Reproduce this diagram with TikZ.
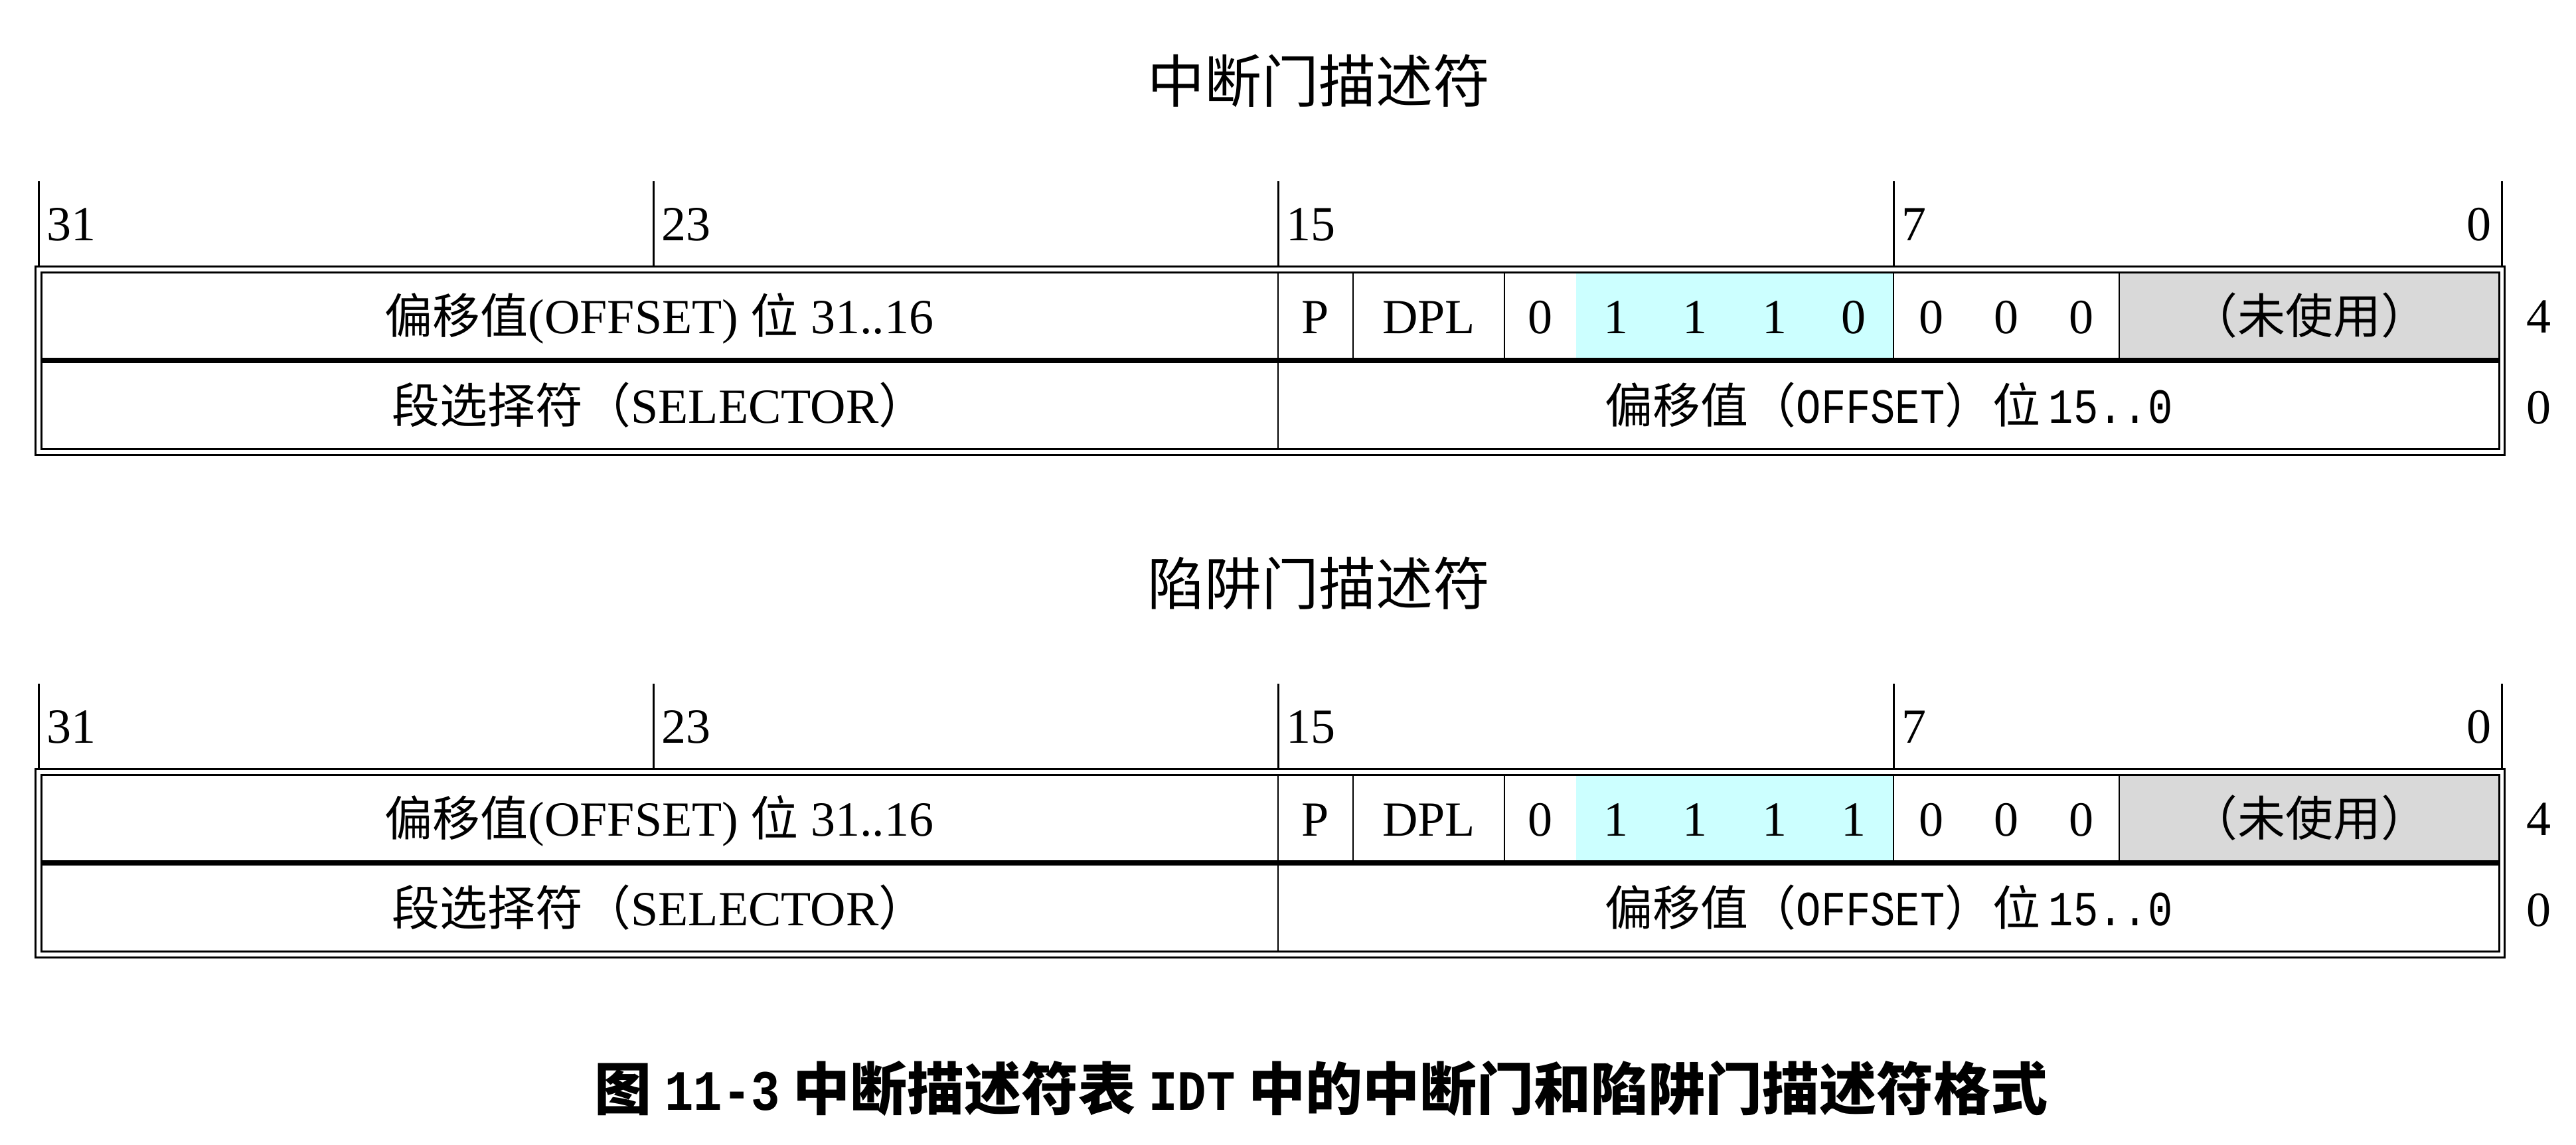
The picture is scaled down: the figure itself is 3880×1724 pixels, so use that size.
\documentclass[tikz,border=0pt]{standalone}
\usepackage{fontspec}
\setmainfont{Liberation Serif}
\newfontfamily\cjk{Noto Sans CJK SC}
\newfontfamily\monof[FakeStretch=0.84]{Liberation Mono}
\definecolor{bitcyan}{HTML}{CCFFFF}
\definecolor{unusedgrey}{HTML}{D9D9D9}
\tikzset{
  lbl/.style={inner sep=0pt, font=\fontsize{37}{44}\selectfont},
  ttl/.style={inner sep=0pt, font=\cjk\fontsize{43}{50}\selectfont},
  tickline/.style={line width=1.5pt},
  border/.style={line width=1.5pt},
  rowsep/.style={line width=4pt},
  cellsep/.style={line width=1.3pt},
}
\newcommand\zh[1]{{\cjk\fontsize{36}{44}\selectfont #1}}
\newcommand\ssm[1]{{\monof\fontsize{37}{44}\selectfont #1}}
\newcommand\gateblock[4]{%
\begin{scope}[shift={(0,#1)}]
  \fill[bitcyan] (2374,410) rectangle (2852,543);
  \fill[unusedgrey] (3192,410) rectangle (3764,543);
  \node[ttl] (#2title) at (1986,122) {#3};
  \draw[tickline] (58,273) -- (58,401);
  \draw[tickline] (984,273) -- (984,401);
  \draw[tickline] (1925,273) -- (1925,401);
  \draw[tickline] (2852,273) -- (2852,401);
  \draw[tickline] (3768,273) -- (3768,401);
  \node[lbl, anchor=base west] (#2t31) at (70,362) {31};
  \node[lbl, anchor=base west] (#2t23) at (996,362) {23};
  \node[lbl, anchor=base west] (#2t15) at (1937,362) {15};
  \node[lbl, anchor=base west] (#2t7) at (2864,362) {7};
  \node[lbl, anchor=base east] (#2t0) at (3753,362) {0};
  \draw[border] (53,401) rectangle (3772,685);
  \draw[border] (62,410) rectangle (3764,676);
  \draw[rowsep] (62,543) -- (3764,543);
  \draw[cellsep] (1925,410) -- (1925,676);
  \draw[cellsep] (2038,410) -- (2038,543);
  \draw[cellsep] (2266,410) -- (2266,543);
  \draw[cellsep] (2852,410) -- (2852,543);
  \draw[cellsep] (3192,410) -- (3192,543);
  \node[lbl, anchor=base] (#2offhi) at (993,502) {\zh{偏移值}(OFFSET) \zh{位} 31..16};
  \node[lbl, anchor=base] (#2p) at (1981,502) {P};
  \node[lbl, anchor=base] (#2dpl) at (2152,502) {DPL};
  \node[lbl, anchor=base] (#2b12) at (2320,502) {0};
  \node[lbl, anchor=base] (#2b11) at (2434,502) {1};
  \node[lbl, anchor=base] (#2b10) at (2553,502) {1};
  \node[lbl, anchor=base] (#2b9) at (2673,502) {1};
  \node[lbl, anchor=base] (#2b8) at (2792,502) {#4};
  \node[lbl, anchor=base] (#2b7) at (2909,502) {0};
  \node[lbl, anchor=base] (#2b6) at (3022,502) {0};
  \node[lbl, anchor=base] (#2b5) at (3135,502) {0};
  \node[lbl, anchor=base] (#2unused) at (3478,502) {\zh{（未使用）}};
  \node[lbl, anchor=base] (#2sel) at (993,637) {\zh{段选择符（}SELECTOR\zh{）}};
  \node[lbl, anchor=base] (#2offlo) at (2845,637) {\zh{偏移值（}\ssm{OFFSET}\zh{）位}\,\ssm{15..0}};
  \node[lbl, anchor=base] (#2r4) at (3824,501) {4};
  \node[lbl, anchor=base] (#2r0) at (3824,638) {0};
\end{scope}}
\begin{document}
\begin{tikzpicture}[x=0.5pt, y=-0.5pt]
  \useasboundingbox (0,0) rectangle (3880,1724);
  \gateblock{0}{i}{中断门描述符}{0}
  \gateblock{757}{t}{陷阱门描述符}{1}
  \node[inner sep=0pt, font=\cjk\bfseries\fontsize{43}{50}\selectfont] (caption) at (1990,1640)
    {图 {\monof\bfseries\fontsize{43}{50}\selectfont 11-3} 中断描述符表 {\monof\bfseries\fontsize{43}{50}\selectfont IDT} 中的中断门和陷阱门描述符格式};
\end{tikzpicture}
\end{document}
